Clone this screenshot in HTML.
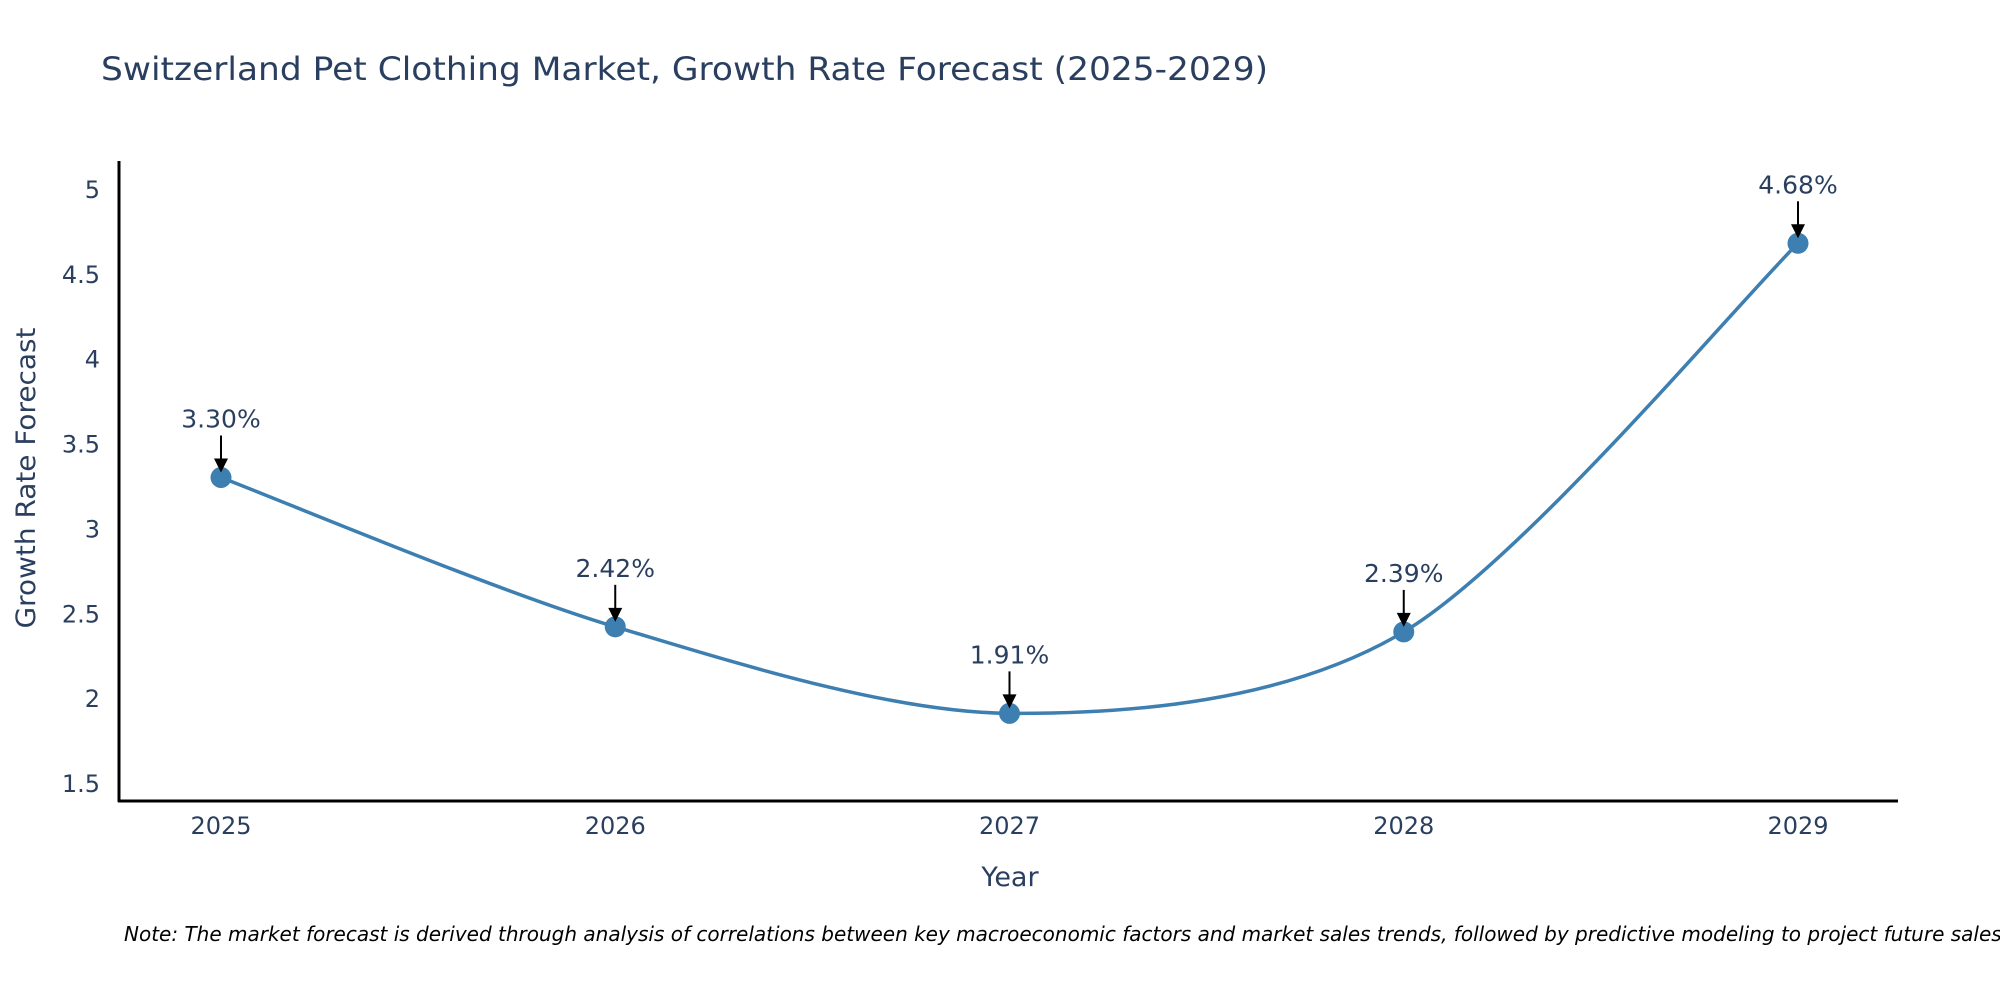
<!DOCTYPE html>
<html><head><meta charset="utf-8"><style>
html,body{margin:0;padding:0;background:#fff;width:2000px;height:1000px;overflow:hidden}
svg{display:block}
</style></head><body>
<svg id="chart" width="2000" height="1000" xmlns="http://www.w3.org/2000/svg">
<rect width="2000" height="1000" fill="#fff"/>
<text x="101" y="80" font-family="'DejaVu Sans','Liberation Sans',sans-serif" font-size="32" fill="#2a3f5f" textLength="1167" lengthAdjust="spacingAndGlyphs">Switzerland Pet Clothing Market, Growth Rate Forecast (2025-2029)</text>
<g id="yticks"></g>
<g id="xticks"></g>
<path id="line" fill="none" stroke="#3d7fb1" stroke-width="3.5"/>
<g id="marks"></g>
<line x1="119" y1="161" x2="119" y2="802" stroke="#000" stroke-width="3"/>
<line x1="118" y1="801" x2="1898" y2="801" stroke="#000" stroke-width="3"/>
<text x="1010" y="886" text-anchor="middle" font-family="'DejaVu Sans','Liberation Sans',sans-serif" font-size="27" fill="#2a3f5f">Year</text>
<text transform="translate(35,478) rotate(-90)" text-anchor="middle" font-family="'DejaVu Sans','Liberation Sans',sans-serif" font-size="27" fill="#2a3f5f" textLength="301" lengthAdjust="spacingAndGlyphs">Growth Rate Forecast</text>
<text x="124" y="941" font-family="'DejaVu Sans','Liberation Sans',sans-serif" font-style="italic" font-size="20" fill="#000">Note: The market forecast is derived through analysis of correlations between key macroeconomic factors and market sales trends, followed by predictive modeling to project future sales.</text>
</svg>
<script>
const years = [2025, 2026, 2027, 2028, 2029];
const values = [3.30, 2.42, 1.91, 2.39, 4.68];
const labels = ["3.30%", "2.42%", "1.91%", "2.39%", "4.68%"];
const yTicks = [1.5, 2, 2.5, 3, 3.5, 4, 4.5, 5];
const yTickLabels = ["1.5", "2", "2.5", "3", "3.5", "4", "4.5", "5"];

const NS = "http://www.w3.org/2000/svg";
function xs(yr){ return 221 + (yr - 2025) * 394.25; }
function ys(v){ return 189 + (5 - v) * 169.7; }
function mk(tag, attrs, parent, text){
  const e = document.createElementNS(NS, tag);
  for (const k in attrs) e.setAttribute(k, attrs[k]);
  if (text !== undefined) e.textContent = text;
  parent.appendChild(e);
  return e;
}
const font = "'DejaVu Sans','Liberation Sans',sans-serif";
const yt = document.getElementById('yticks');
yTicks.forEach((t, i) => {
  const el = mk('text', {x: 100, y: ys(t) + 9, 'text-anchor': 'end', 'font-family': font, 'font-size': 24, fill: '#2a3f5f'}, yt, yTickLabels[i]);
  
  
});
const xt = document.getElementById('xticks');
years.forEach(yr => {
  const el = mk('text', {x: xs(yr), y: 834, 'text-anchor': 'middle', 'font-family': font, 'font-size': 24, fill: '#2a3f5f'}, xt, String(yr));
  
  
});
const pts = years.map((yr, i) => [xs(yr), ys(values[i])]);
let d = 'M' + pts[0][0] + ',' + pts[0][1];
const tn = 0.15;
for (let i = 0; i < pts.length - 1; i++) {
  const p0 = pts[Math.max(0, i - 1)], p1 = pts[i], p2 = pts[i + 1], p3 = pts[Math.min(pts.length - 1, i + 2)];
  const c1x = p1[0] + (p2[0] - p0[0]) * tn, c1y = p1[1] + (p2[1] - p0[1]) * tn;
  const c2x = p2[0] - (p3[0] - p1[0]) * tn, c2y = p2[1] - (p3[1] - p1[1]) * tn;
  d += ' C' + c1x + ',' + c1y + ' ' + c2x + ',' + c2y + ' ' + p2[0] + ',' + p2[1];
}
document.getElementById('line').setAttribute('d', d);
const mg = document.getElementById('marks');
pts.forEach((p, i) => {
  const c = mk('circle', {cx: p[0], cy: p[1], r: 10.5, fill: '#3d7fb1'}, mg);
  
  
  const ln = mk('line', {x1: p[0], y1: p[1] - 42, x2: p[0], y2: p[1] - 18, stroke: '#000', 'stroke-width': 2}, mg);
  
  
  const hd = mk('path', {d: 'M' + (p[0] - 7) + ',' + (p[1] - 19) + ' L' + (p[0] + 7) + ',' + (p[1] - 19) + ' L' + p[0] + ',' + (p[1] - 5) + ' Z', fill: '#000'}, mg);
  
  
  const tx = mk('text', {x: p[0], y: p[1] - 50, 'text-anchor': 'middle', 'font-family': font, 'font-size': 25, fill: '#2a3f5f'}, mg, labels[i]);
  
  
});
</script>
</body></html>
